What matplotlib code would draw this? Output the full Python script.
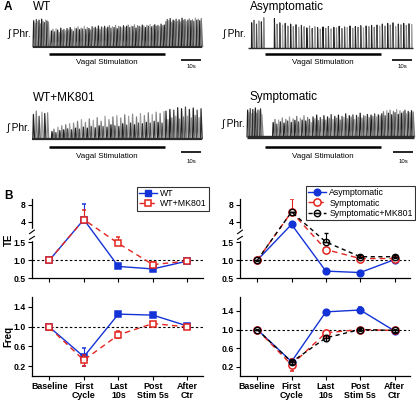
import numpy as np
import matplotlib
matplotlib.use('Agg')
import matplotlib.pyplot as plt
from matplotlib.collections import LineCollection
from matplotlib.transforms import blended_transform_factory
from matplotlib.path import Path
from matplotlib.lines import Line2D
from matplotlib.ticker import NullLocator

plt.rcParams['font.family'] = ['Liberation Sans', 'DejaVu Sans']

# ---------------- Panel A data: burst peak amplitudes (relative) ----------------
stim_dur = 58.0
wt_pre = [0.88, 0.8, 0.92, 0.85, 0.9, 0.78, 0.93, 0.86, 0.82, 0.9, 0.87, 0.84]
wt_stim = [0.0, 0.55, 0.6, 0.52, 0.62, 0.58, 0.5, 0.64, 0.57, 0.6, 0.55, 0.63, 0.58, 0.66, 0.6,
           0.54, 0.65, 0.62, 0.68, 0.59, 0.64, 0.61, 0.7, 0.6, 0.66, 0.63, 0.58, 0.69, 0.64,
           0.67, 0.62, 0.71, 0.6, 0.68, 0.65, 0.7, 0.63, 0.67, 0.72, 0.64, 0.69, 0.66, 0.73,
           0.62, 0.7, 0.68, 0.65, 0.72, 0.67, 0.7, 0.74, 0.66, 0.71, 0.69, 0.75, 0.64, 0.72,
           0.7, 0.68, 0.74, 0.71, 0.66, 0.73, 0.7, 0.76, 0.68, 0.72, 0.75, 0.7, 0.73, 0.69,
           0.77, 0.72, 0.74]
wt_post = [0.85, 0.92, 0.88, 0.95, 0.83, 0.9, 0.87, 0.93, 0.86, 0.91, 0.84, 0.96, 0.89,
           0.92, 0.85, 0.9, 0.94, 0.88, 0.91, 0.86, 0.97, 0.9, 0.93, 0.88, 0.95]

asym_pre = [0.0, 0.82, 0.9, 0.78, 0.88, 0.85, 0.98]
asym_stim = [0, 0, 0, 0.95, 0.78, 0.82, 0.75, 0.8, 0.72, 0.78, 0.7, 0.76, 0.68, 0.74, 0.7,
             0.66, 0.72, 0.64, 0.7, 0.67, 0.62, 0.69, 0.65, 0.7, 0.63, 0.68, 0.66, 0.71,
             0.64, 0.69, 0.67, 0.72, 0.65, 0.7, 0.68, 0.73, 0.66, 0.72, 0.7, 0.74, 0.68,
             0.75, 0.72]
asym_post = [0.78, 0.72, 0.8, 0.75, 0.82, 0.7, 0.78, 0.76, 0.8, 0.74, 0.79, 0.77]

mk_pre = [0.75, 0.85, 0.7, 0.82, 0.78, 0.8]
mk_stim = [0.0, 0.25, 0.32, 0.22, 0.38, 0.28, 0.42, 0.3, 0.45, 0.33, 0.48, 0.3, 0.5, 0.35,
           0.55, 0.32, 0.6, 0.38, 0.52, 0.35, 0.62, 0.4, 0.58, 0.36, 0.66, 0.42, 0.55, 0.4,
           0.7, 0.38, 0.6, 0.45, 0.68, 0.42, 0.72, 0.4, 0.65, 0.48, 0.74, 0.44, 0.7, 0.5,
           0.76, 0.45, 0.68, 0.5, 0.78, 0.48, 0.72, 0.52, 0.8, 0.5, 0.75, 0.55, 0.82, 0.52,
           0.78, 0.5, 0.84]
mk_post = [0.85, 0.6, 0.9, 0.65, 0.88, 0.7, 0.95, 0.62, 0.92, 0.68, 0.97, 0.7, 0.9, 0.65,
           0.94, 0.72, 0.88, 0.66, 0.92]

sym_pre = [0.9, 0.82, 0.95, 0.78, 0.92, 0.86, 0.97, 0.8, 0.9, 0.88, 0.94, 0.76, 0.0, 0.0]
sym_stim = [0, 0, 0, 0, 0.5, 0.6, 0.45, 0.58, 0.52, 0.65, 0.48, 0.6, 0.55, 0.68, 0.5,
            0.62, 0.57, 0.7, 0.52, 0.64, 0.58, 0.72, 0.55, 0.66, 0.6, 0.5, 0.68, 0.62, 0.74,
            0.56, 0.66, 0.6, 0.72, 0.58, 0.68, 0.63, 0.76, 0.6, 0.7, 0.64, 0.74, 0.58, 0.7,
            0.66, 0.78, 0.62, 0.72, 0.68, 0.75, 0.6, 0.73, 0.67, 0.8, 0.64, 0.72, 0.7, 0.76,
            0.66, 0.74, 0.7, 0.78, 0.68, 0.75, 0.72]
sym_post = [0.78, 0.85, 0.72, 0.88, 0.8, 0.9, 0.75, 0.86, 0.82, 0.92, 0.76, 0.88, 0.8,
            0.85, 0.9, 0.78, 0.86, 0.82, 0.88, 0.84]

# ---------------- Panel B data ----------------
categories = ['Baseline', 'First\nCycle', 'Last\n10s', 'Post\nStim 5s', 'After\nCtr']

wt_te = [1.0, 4.4, 0.83, 0.76, 0.98]
wt_te_lo = [0.03, 0.0, 0.03, 0.04, 0.02]
wt_te_hi = [0.03, 3.8, 0.03, 0.03, 0.02]
wtmk_te = [1.0, 4.4, 1.47, 0.88, 0.98]
wtmk_te_lo = [0.02, 0.0, 0.05, 0.05, 0.03]
wtmk_te_hi = [0.02, 2.1, 0.7, 0.06, 0.03]

asym_te = [1.0, 3.6, 0.70, 0.66, 1.02]
asym_te_err = [0.02, 0.05, 0.02, 0.02, 0.03]
sym_te = [1.0, 6.0, 1.3, 1.05, 1.05]
sym_te_lo = [0.02, 0.0, 0.05, 0.04, 0.04]
sym_te_hi = [0.02, 4.0, 0.05, 0.05, 0.05]
symmk_te = [1.0, 6.0, 1.55, 1.1, 1.1]
symmk_te_lo = [0.02, 0.0, 0.05, 0.04, 0.04]
symmk_te_hi = [0.02, 0.0, 0.95, 0.06, 0.05]

wt_f = [0.99, 0.39, 1.25, 1.23, 1.01]
wt_f_err = [0.02, 0.18, 0.03, 0.04, 0.02]
wtmk_f = [0.98, 0.32, 0.83, 1.06, 0.99]
wtmk_f_err = [0.05, 0.11, 0.07, 0.04, 0.05]

asym_f = [1.0, 0.31, 1.38, 1.42, 0.97]
asym_f_err = [0.02, 0.03, 0.04, 0.06, 0.04]
sym_f = [1.0, 0.24, 0.93, 1.0, 0.98]
sym_f_err = [0.03, 0.13, 0.04, 0.04, 0.04]
symmk_f = [1.0, 0.3, 0.82, 1.0, 0.98]
symmk_f_err = [0.02, 0.05, 0.07, 0.03, 0.03]

BLUE = '#1433d6'
RED = '#e3241f'

W, H = 416, 400
fig = plt.figure(figsize=(W / 100, H / 100), dpi=100)


def rect(x0, y0, x1, y1):
    return [x0 / W, 1 - y1 / H, (x1 - x0) / W, (y1 - y0) / H]


def fy(py):
    return 1 - py / H


def fx(px):
    return px / W


GRAYS = ['#1e1e1e', '#7a7a7a', '#4a4a4a', '#a0a0a0', '#2e2e2e', '#8a8a8a']


def draw_trace(x0, ytop, ybase, segs, pre_dur, post_dur, rise, fall, band_lw, lw,
               phr_y, bar_y, txt_y, sc_y, sctxt_y):
    durs = [pre_dur, stim_dur, post_dur]
    total = sum(durs)
    ax = fig.add_axes(rect(x0, ytop, x0 + total * 2, ybase))
    ax.set_xlim(0, total)
    ax.set_ylim(0, 1)
    ax.axis('off')
    lines, cols = [], []
    t0 = 0
    k = 0
    for amps, d in zip(segs, durs):
        n = len(amps)
        dt = d / n
        for i, a in enumerate(amps):
            if a > 0:
                t = t0 + (i + 0.5) * dt
                lines.append([(t - rise, 0.02), (t, a), (t + fall, 0.02)])
                cols.append(GRAYS[k % len(GRAYS)])
                k += 1
        t0 += d
    ax.add_collection(LineCollection(lines, colors=cols, linewidths=lw, clip_on=False))
    ax.plot([0, total], [0.03, 0.03], color='#2a2a2a', lw=band_lw, clip_on=False,
            solid_capstyle='butt')
    tr = blended_transform_factory(ax.transData, fig.transFigure)
    ax.plot([pre_dur, pre_dur + stim_dur], [fy(bar_y), fy(bar_y)], color='black', lw=1.8,
            transform=tr, clip_on=False, solid_capstyle='butt')
    ax.text(pre_dur + stim_dur / 2, fy(txt_y), 'Vagal Stimulation', transform=tr,
            ha='center', va='center', fontsize=5.8)
    s0 = total - 10.5
    ax.plot([s0, s0 + 10], [fy(sc_y), fy(sc_y)], color='black', lw=1.2, transform=tr,
            clip_on=False, solid_capstyle='butt')
    ax.text(s0 + 5, fy(sctxt_y), '10s', transform=tr, ha='center', va='center', fontsize=4.3)
    fig.text(fx(x0 - 2), fy(phr_y), '\u222b Phr.', ha='right', va='center', fontsize=7.3)
    return ax


draw_trace(33, 17, 48, [wt_pre, wt_stim, wt_post], 8.0, 18.5, 0.3, 0.7, 1.5, 0.9,
           34, 53.5, 62, 59.5, 66)
draw_trace(248, 17, 49, [asym_pre, asym_stim, asym_post], 8.5, 16.0, 0.1, 0.3, 1.0, 0.8,
           34, 53.5, 62, 59.5, 66)
draw_trace(32, 106, 140, [mk_pre, mk_stim, mk_post], 8.5, 18.5, 0.3, 0.6, 1.6, 0.9,
           128, 147, 156, 152, 161)
draw_trace(247, 107, 138, [sym_pre, sym_stim, sym_post], 9.0, 16.5, 0.3, 0.7, 2.4, 0.9,
           124, 147, 156, 152, 161)

fig.text(fx(4), fy(7), 'A', fontsize=8.5, fontweight='bold', va='center', ha='left')
fig.text(fx(33), fy(7), 'WT', fontsize=8.5, va='center', ha='left')
fig.text(fx(250), fy(7), 'Asymptomatic', fontsize=8.5, va='center', ha='left')
fig.text(fx(33), fy(98), 'WT+MK801', fontsize=8.5, va='center', ha='left')
fig.text(fx(249), fy(97), 'Symptomatic', fontsize=8.5, va='center', ha='left')
fig.text(fx(4), fy(196), 'B', fontsize=8.5, fontweight='bold', va='center', ha='left')
fig.text(fx(8.5), fy(240), 'TE', fontsize=7, fontweight='bold', rotation=90,
         va='center', ha='center')
fig.text(fx(8.5), fy(336), 'Freq', fontsize=7, fontweight='bold', rotation=90,
         va='center', ha='center')


# ---------------- Panel B ----------------
def te_fwd(y):
    y = np.asarray(y, float)
    ys = np.maximum(y, 1e-9)
    return np.where(y <= 1.5, y,
                    np.where(y <= 2.0, 1.5 + (y - 1.5) * 0.2, 1.6 + 0.47 * np.log2(ys / 2)))


def te_inv(t):
    t = np.asarray(t, float)
    e = np.clip((t - 1.6) / 0.47, -50, 50)
    return np.where(t <= 1.5, t, np.where(t <= 1.6, 1.5 + (t - 1.5) * 5, 2 * np.power(2.0, e)))


x = np.arange(len(categories))


def style_axis(ax, ylim, yticks, yticklabels, xlabels):
    for s in ['top', 'right']:
        ax.spines[s].set_visible(False)
    for s in ['left', 'bottom']:
        ax.spines[s].set_linewidth(0.9)
    ax.set_xlim(-0.5, 4.45)
    ax.set_ylim(*ylim)
    ax.set_yticks(yticks)
    ax.set_yticklabels(yticklabels, fontweight='bold', fontsize=6.2)
    ax.yaxis.set_minor_locator(NullLocator())
    ax.set_xticks(x)
    if xlabels:
        ax.set_xticklabels(categories, fontweight='bold', fontsize=6.4, linespacing=1.0)
    else:
        ax.set_xticklabels([])
    ax.tick_params(length=3, width=0.8, pad=1.5)
    ax.axhline(1.0, color='black', ls=(0, (2.2, 2)), lw=0.8, zorder=0)


def series(ax, y, lo, hi, color, marker, ls, mfc, ms, z, mew=1.1):
    ax.errorbar(x, y, yerr=[lo, hi], color=color, ls=ls, marker=marker, mfc=mfc, mec=color,
                ms=ms, mew=mew, lw=1.0, elinewidth=0.8, capsize=1.5, capthick=0.8, zorder=z)


def te_break(ax):
    tr = blended_transform_factory(ax.transAxes, ax.transData)
    ax.plot([0, 0], [1.9, 2.9], color='white', lw=2.5, transform=tr, clip_on=False, zorder=5)
    for yb in (2.05, 2.65):
        ax.annotate('', xy=(0.015, yb * 1.08), xytext=(-0.015, yb / 1.08), xycoords=tr,
                    textcoords=tr, arrowprops=dict(arrowstyle='-', lw=0.8, color='black',
                                                   shrinkA=0, shrinkB=0), zorder=6)


circ_line = Path.make_compound_path(Path.unit_circle(), Path([[-1.0, 0.0], [1.0, 0.0]]))

# Left TE
ax1 = fig.add_axes(rect(32, 199.5, 203, 278.3))
ax1.set_yscale('function', functions=(te_fwd, te_inv))
series(ax1, wt_te, wt_te_lo, wt_te_hi, BLUE, 's', '-', BLUE, 4.2, 3)
series(ax1, wtmk_te, wtmk_te_lo, wtmk_te_hi, RED, 's', (0, (4, 3)), 'white', 4.8, 4)
style_axis(ax1, (0.5, 10), [0.5, 1.0, 1.5, 4, 8], ['0.5', '1.0', '1.5', '4', '8'], False)
te_break(ax1)

# Right TE
ax2 = fig.add_axes(rect(240, 199.5, 410, 278.3))
ax2.set_yscale('function', functions=(te_fwd, te_inv))
series(ax2, asym_te, asym_te_err, asym_te_err, BLUE, 'o', '-', BLUE, 4.8, 3)
series(ax2, sym_te, sym_te_lo, sym_te_hi, RED, 'o', (0, (4, 3)), 'white', 5.2, 4)
series(ax2, symmk_te, symmk_te_lo, symmk_te_hi, 'black', circ_line, (0, (3, 2.5)), 'none', 4.6, 5, 1.0)
style_axis(ax2, (0.5, 10), [0.5, 1.0, 1.5, 4, 8], ['0.5', '1.0', '1.5', '4', '8'], False)
te_break(ax2)

# Left Freq
ax3 = fig.add_axes(rect(32, 296.8, 203, 376))
series(ax3, wt_f, wt_f_err, wt_f_err, BLUE, 's', '-', BLUE, 4.2, 3)
series(ax3, wtmk_f, wtmk_f_err, wtmk_f_err, RED, 's', (0, (4, 3)), 'white', 4.8, 4)
style_axis(ax3, (0, 1.6), [0.2, 0.6, 1.0, 1.4], ['0.2', '0.6', '1.0', '1.4'], True)

# Right Freq
ax4 = fig.add_axes(rect(240, 297, 410, 376))
series(ax4, asym_f, asym_f_err, asym_f_err, BLUE, 'o', '-', BLUE, 4.8, 3)
series(ax4, sym_f, sym_f_err, sym_f_err, RED, 'o', (0, (4, 3)), 'white', 5.2, 4)
series(ax4, symmk_f, symmk_f_err, symmk_f_err, 'black', circ_line, (0, (3, 2.5)), 'none', 4.6, 5, 1.0)
style_axis(ax4, (0, 1.7), [0.2, 0.6, 1.0, 1.4], ['0.2', '0.6', '1.0', '1.4'], True)

# Legends
h_left = [Line2D([], [], color=BLUE, marker='s', ms=4.2, mfc=BLUE, lw=1.0),
          Line2D([], [], color=RED, marker='s', ms=4.8, mfc='white', mew=1.1, lw=1.0,
                 ls=(0, (4, 3)))]
lg1 = fig.legend(h_left, ['WT', 'WT+MK801'], loc='upper left',
                 bbox_to_anchor=(fx(137), fy(187)), fontsize=6.3, frameon=True, fancybox=False,
                 edgecolor='black', handlelength=2.0, borderpad=0.25, labelspacing=0.15,
                 handletextpad=0.4, borderaxespad=0)
lg1.get_frame().set_linewidth(0.8)

h_right = [Line2D([], [], color=BLUE, marker='o', ms=4.8, mfc=BLUE, lw=1.0),
           Line2D([], [], color=RED, marker='o', ms=5.2, mfc='white', mew=1.1, lw=1.0,
                  ls=(0, (4, 3))),
           Line2D([], [], color='black', marker=circ_line, ms=4.6, mfc='none', mew=1.0,
                  lw=1.0, ls=(0, (3, 2.5)))]
lg2 = fig.legend(h_right, ['Asymptomatic', 'Symptomatic', 'Symptomatic+MK801'],
                 loc='upper left', bbox_to_anchor=(fx(306), fy(186)), fontsize=6.3,
                 frameon=True, fancybox=False, edgecolor='black', handlelength=2.0,
                 borderpad=0.25, labelspacing=0.15, handletextpad=0.4, borderaxespad=0)
lg2.get_frame().set_linewidth(0.8)

fig.savefig('out.png', dpi=100)
